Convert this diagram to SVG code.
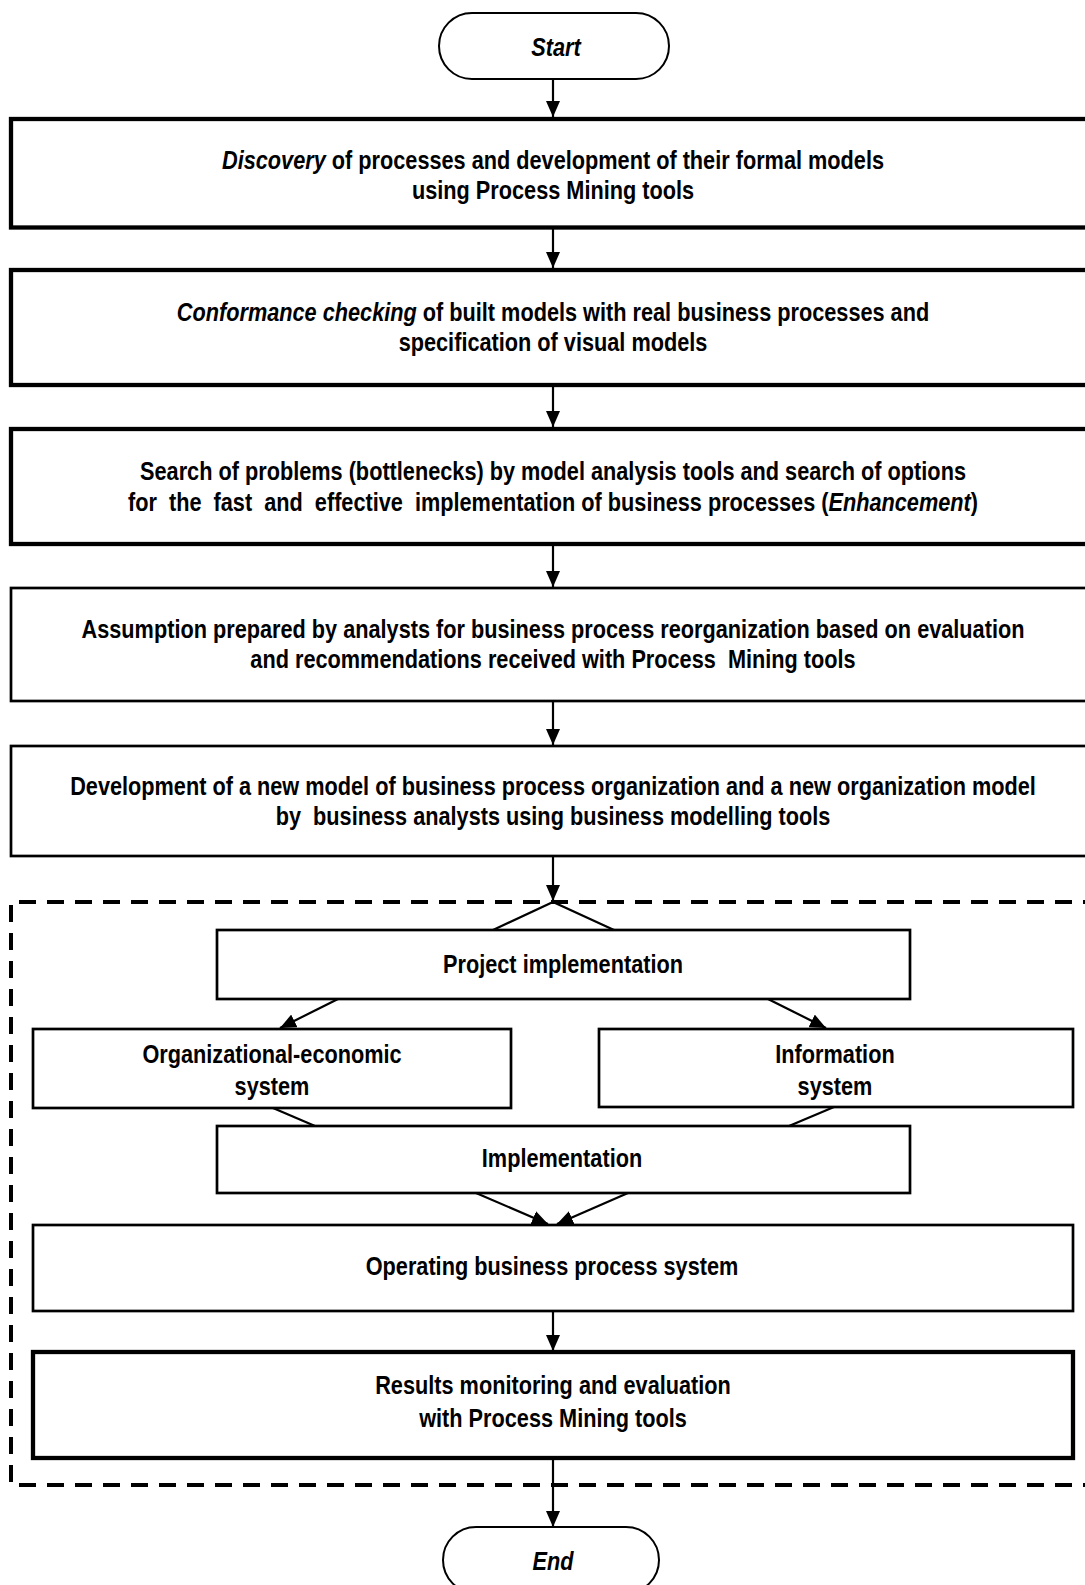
<svg xmlns="http://www.w3.org/2000/svg" width="1085" height="1585" viewBox="0 0 1085 1585">
<style>
text{font-family:"Liberation Sans",Arial,sans-serif;font-weight:bold;font-size:26px;fill:#000;text-anchor:middle}
.it{font-style:italic}
.thick{fill:#fff;stroke:#000;stroke-width:4.3}
.med{fill:#fff;stroke:#000;stroke-width:2.7}
.pill{fill:#fff;stroke:#000;stroke-width:2}
.conn{fill:none;stroke:#000;stroke-width:2.2}
.dash{fill:none;stroke:#000;stroke-width:4;stroke-dasharray:17 11}
</style>
<defs>
<marker id="ah" markerUnits="userSpaceOnUse" markerWidth="16" markerHeight="14" refX="16" refY="7" orient="auto">
<path d="M0,0 L16,7 L0,14 Z" fill="#000"/>
</marker>
</defs>
<rect width="1085" height="1585" fill="#fff"/>
<g id="group-boundary">
<path class="dash" d="M1100,902 H11 V1485 H1100"/>
</g>
<g id="connectors">
<line class="conn" x1="553" y1="79" x2="553" y2="117" marker-end="url(#ah)"/>
<line class="conn" x1="553" y1="229" x2="553" y2="268" marker-end="url(#ah)"/>
<line class="conn" x1="553" y1="387" x2="553" y2="427" marker-end="url(#ah)"/>
<line class="conn" x1="553" y1="546" x2="553" y2="587" marker-end="url(#ah)"/>
<line class="conn" x1="553" y1="702" x2="553" y2="745" marker-end="url(#ah)"/>
<line class="conn" x1="553" y1="857" x2="553" y2="901" marker-end="url(#ah)"/>
<polyline class="conn" points="493,930 553,902 614,930"/>
<line class="conn" x1="338" y1="999" x2="280" y2="1028" marker-end="url(#ah)"/>
<line class="conn" x1="768" y1="999" x2="826" y2="1028" marker-end="url(#ah)"/>
<line class="conn" x1="273" y1="1108" x2="315" y2="1126"/>
<line class="conn" x1="834" y1="1107" x2="789" y2="1126"/>
<line class="conn" x1="476" y1="1193" x2="548" y2="1224" marker-end="url(#ah)"/>
<line class="conn" x1="628" y1="1193" x2="557" y2="1224" marker-end="url(#ah)"/>
<line class="conn" x1="553" y1="1311" x2="553" y2="1351" marker-end="url(#ah)"/>
<line class="conn" x1="553" y1="1460" x2="553" y2="1527" marker-end="url(#ah)"/>
</g>
<g id="start">
<rect class="pill" x="439" y="13" width="230" height="66" rx="33"/>
<text class="it" transform="translate(556 56) scale(0.835 1)">Start</text>
</g>
<g id="discovery">
<rect class="thick" x="11" y="119" width="1090" height="108.5"/>
<text transform="translate(553 169) scale(0.835 1)"><tspan class="it">Discovery</tspan> of processes and development of their formal models</text>
<text transform="translate(553 199) scale(0.835 1)">using Process Mining tools</text>
</g>
<g id="conformance">
<rect class="thick" x="11" y="270" width="1090" height="115"/>
<text transform="translate(553 321) scale(0.835 1)"><tspan class="it">Conformance checking</tspan> of built models with real business processes and</text>
<text transform="translate(553 351) scale(0.835 1)">specification of visual models</text>
</g>
<g id="enhancement">
<rect class="thick" x="11" y="429" width="1090" height="115"/>
<text transform="translate(553 480) scale(0.835 1)">Search of problems (bottlenecks) by model analysis tools and search of options</text>
<text xml:space="preserve" transform="translate(553 511) scale(0.835 1)">for  the  fast  and  effective  implementation of business processes (<tspan class="it">Enhancement</tspan>)</text>
</g>
<g id="assumption">
<rect class="med" x="11" y="588" width="1090" height="113"/>
<text transform="translate(553 638) scale(0.835 1)">Assumption prepared by analysts for business process reorganization based on evaluation</text>
<text xml:space="preserve" transform="translate(553 668) scale(0.835 1)">and recommendations received with Process  Mining tools</text>
</g>
<g id="development">
<rect class="med" x="11" y="746" width="1090" height="110"/>
<text transform="translate(553 795) scale(0.835 1)">Development of a new model of business process organization and a new organization model</text>
<text xml:space="preserve" transform="translate(553 825) scale(0.835 1)">by  business analysts using business modelling tools</text>
</g>
<g id="project-implementation">
<rect class="med" x="217" y="930" width="693" height="69"/>
<text transform="translate(563 973) scale(0.835 1)">Project implementation</text>
</g>
<g id="org-economic">
<rect class="med" x="33" y="1029" width="478" height="79"/>
<text transform="translate(272 1063) scale(0.835 1)">Organizational-economic</text>
<text transform="translate(272 1095) scale(0.835 1)">system</text>
</g>
<g id="information">
<rect class="med" x="599" y="1029" width="474" height="78"/>
<text transform="translate(835 1063) scale(0.835 1)">Information</text>
<text transform="translate(835 1095) scale(0.835 1)">system</text>
</g>
<g id="implementation">
<rect class="med" x="217" y="1126" width="693" height="67"/>
<text transform="translate(562 1167) scale(0.835 1)">Implementation</text>
</g>
<g id="operating">
<rect class="med" x="33" y="1225" width="1040" height="86"/>
<text transform="translate(552 1275) scale(0.835 1)">Operating business process system</text>
</g>
<g id="results">
<rect class="thick" x="33" y="1352" width="1040" height="106"/>
<text transform="translate(553 1394) scale(0.835 1)">Results monitoring and evaluation</text>
<text transform="translate(553 1427) scale(0.835 1)">with Process Mining tools</text>
</g>
<g id="end">
<rect class="pill" x="443" y="1527" width="216" height="66" rx="33"/>
<text class="it" transform="translate(553 1570) scale(0.835 1)">End</text>
</g>
</svg>
